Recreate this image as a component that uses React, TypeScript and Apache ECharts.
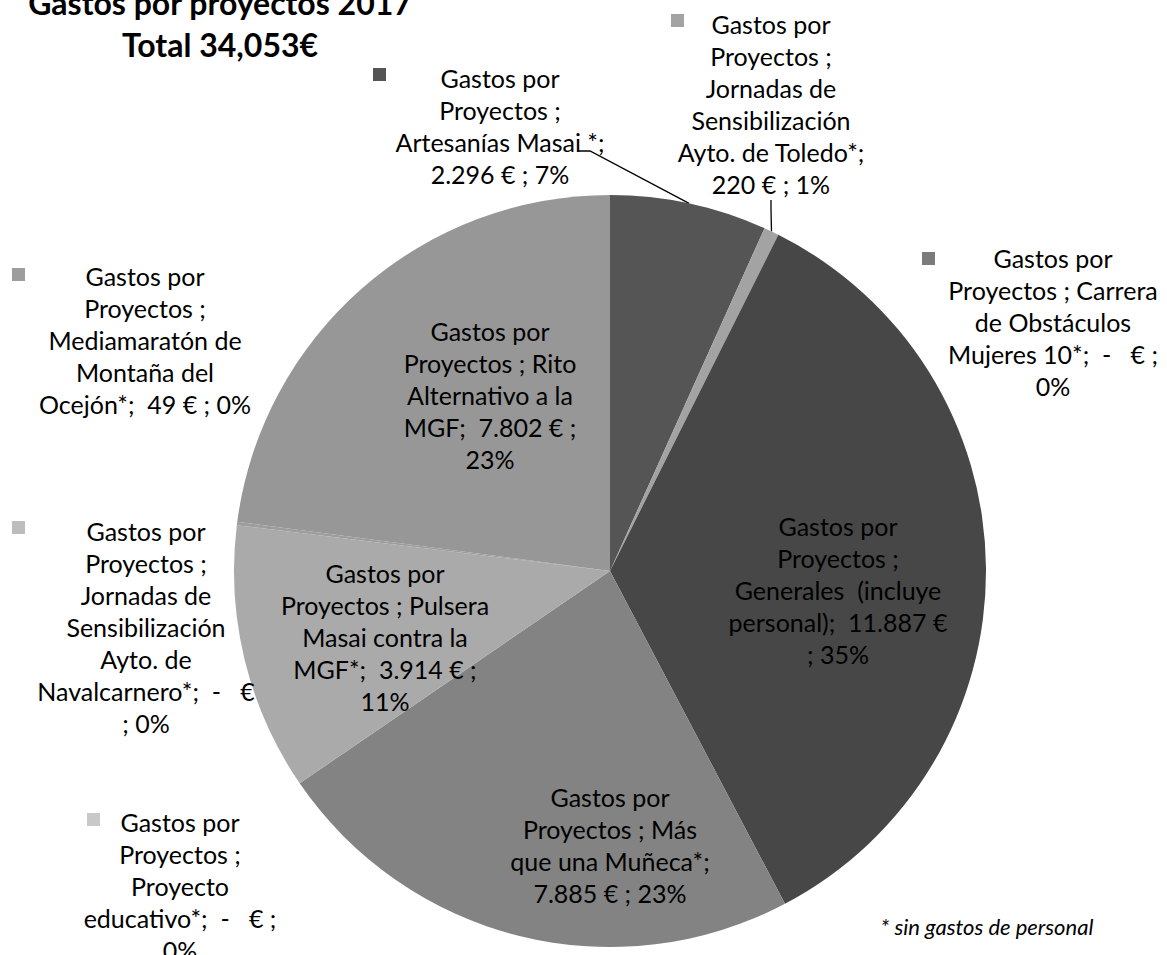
import React, { useEffect, useRef } from "react";
import * as echarts from "echarts";

const categories = [
  "Artesanías Masai *",
  "Jornadas de Sensibilización Ayto. de Toledo*",
  "Carrera de Obstáculos Mujeres 10*",
  "Generales (incluye personal)",
  "Más que una Muñeca*",
  "Proyecto educativo*",
  "Jornadas de Sensibilización Ayto. de Navalcarnero*",
  "Pulsera Masai contra la MGF*",
  "Mediamaratón de Montaña del Ocejón*",
  "Rito Alternativo a la MGF",
];
const values = [2296, 220, 0, 11887, 7885, 0, 0, 3914, 49, 7802];
const labelTemplates = [
  "Gastos por\nProyectos ;\nArtesanías Masai *;\n{v} ; {p}",
  "Gastos por\nProyectos ;\nJornadas de\nSensibilización\nAyto. de Toledo*;\n{v} ; {p}",
  "Gastos por\nProyectos ; Carrera\nde Obstáculos\nMujeres 10*;  {v} ;\n{p}",
  "Gastos por\nProyectos ;\nGenerales  (incluye\npersonal);  {v}\n; {p}",
  "Gastos por\nProyectos ; Más\nque una Muñeca*;\n{v} ; {p}",
  "Gastos por\nProyectos ;\nProyecto\neducativo*;  {v} ;\n{p}",
  "Gastos por\nProyectos ;\nJornadas de\nSensibilización\nAyto. de\nNavalcarnero*;  {v}\n; {p}",
  "Gastos por\nProyectos ; Pulsera\nMasai contra la\nMGF*;  {v} ;\n{p}",
  "Gastos por\nProyectos ;\nMediamaratón de\nMontaña del\nOcejón*;  {v} ; {p}",
  "Gastos por\nProyectos ; Rito\nAlternativo a la\nMGF;  {v} ;\n{p}",
];
const titleText = "Gastos por proyectos 2017\nTotal 34,053€";
const footnote = "* sin gastos de personal";

// styling / layout (not data)
const colors = ["#555555", "#a3a3a3", "#7b7b7b", "#474747", "#838383", "#c8c8c8", "#bdbdbd", "#aaaaaa", "#9d9d9d", "#979797"];
const outside = [true, true, true, false, false, true, true, false, true, false];
const withLine = [true, true, false, false, false, false, false, false, false, false];
const labelCenters: [number, number][] = [
  [500, 126], [771, 104], [1053, 322], [838, 590], [610, 845],
  [180, 886], [146, 627], [385, 637], [145, 340], [490, 395],
];
// custom leader-line bends, relative to label centre (null = automatic)
const lineBends: ([number, number][] | null)[] = [
  [[90, 25], [78, 25]], null, null, null, null, null, null, null, null, null,
];
const keySquares: { i: number; x: number; y: number }[] = [
  { i: 0, x: 373, y: 68 },
  { i: 1, x: 671, y: 14 },
  { i: 2, x: 922, y: 252 },
  { i: 8, x: 12, y: 268 },
  { i: 6, x: 12, y: 521 },
  { i: 5, x: 87, y: 813 },
];

const FONT = "Lato, 'Noto Sans', sans-serif";

function fmtValue(v: number) {
  if (!v) return "-   €";
  return v.toString().replace(/\B(?=(\d{3})+(?!\d))/g, ".") + " €";
}

export default function App() {
  const ref = useRef<HTMLDivElement>(null);
  useEffect(() => {
    if (!ref.current) return;
    const chart = echarts.init(ref.current, null, { renderer: "svg" });
    const total = values.reduce((a, b) => a + b, 0);
    const data = categories.map((name, i) => ({
      name,
      value: values[i],
      itemStyle: { color: colors[i] },
      label: { position: outside[i] ? "outside" : "inside" },
      labelLine: { show: withLine[i] },
    }));
    chart.setOption({
      animation: false,
      graphic: [
        {
          type: "text",
          x: 220,
          y: 23,
          style: {
            text: titleText,
            font: `bold 32px ${FONT}`,
            lineHeight: 42,
            fill: "#000",
            textAlign: "center",
            textVerticalAlign: "middle",
          },
        },
        {
          type: "text",
          x: 987,
          y: 926,
          style: {
            text: footnote,
            font: `italic 22px ${FONT}`,
            fill: "#000",
            textAlign: "center",
            textVerticalAlign: "middle",
          },
        },
        ...keySquares.map((k) => ({
          type: "rect",
          shape: { x: k.x, y: k.y, width: 13, height: 13 },
          style: { fill: colors[k.i] },
        })),
      ],
      series: [
        {
          type: "pie",
          center: [610, 571],
          radius: 376,
          startAngle: 90,
          clockwise: true,
          avoidLabelOverlap: false,
          silent: true,
          emphasis: { disabled: true },
          itemStyle: { borderWidth: 0 },
          label: {
            show: true,
            color: "#000",
            fontFamily: FONT,
            fontSize: 25,
            lineHeight: 32,
            align: "center",
            formatter: (p: any) => {
              const i = p.dataIndex;
              const pct = Math.round((values[i] / total) * 100) + "%";
              return labelTemplates[i].replace("{v}", fmtValue(values[i])).replace("{p}", pct);
            },
          },
          labelLine: { show: false, lineStyle: { color: "#000", width: 1.3 }, length: 10, length2: 10 },
          labelLayout: (params: any) => {
            const i = params.dataIndex;
            const c = labelCenters[i];
            const out: any = { x: c[0], y: c[1], align: "center", verticalAlign: "middle" };
            const bends = lineBends[i];
            if (bends && params.labelLinePoints && params.labelLinePoints[0]) {
              out.labelLinePoints = [
                params.labelLinePoints[0],
                ...bends.map((b) => [c[0] + b[0], c[1] + b[1]]),
              ];
            }
            return out;
          },
          data,
        },
      ],
    });
    return () => chart.dispose();
  }, []);
  return (
    <div
      ref={ref}
      style={{ position: "fixed", left: 0, top: 0, width: 1167, height: 955, background: "#fff" }}
    />
  );
}
